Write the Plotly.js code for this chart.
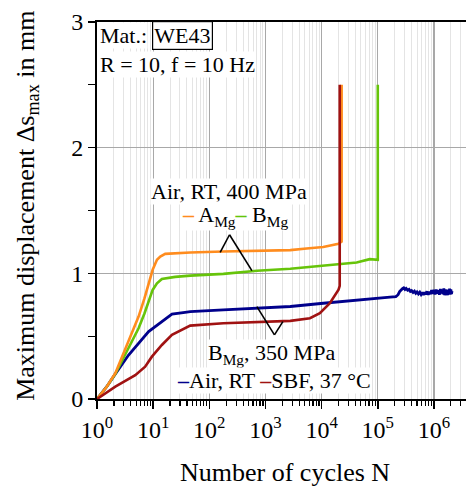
<!DOCTYPE html>
<html>
<head>
<meta charset="utf-8">
<script src="https://cdn.plot.ly/plotly-3.0.1.min.js"></script>
<style>
  html, body { margin: 0; padding: 0; background: #fff; }
  #chart { width: 466px; height: 486px; }
</style>
</head>
<body>
<div id="chart"></div>
<script>
// Cyclic displacement curves of WE43 specimens (R = 10, f = 10 Hz)

// A_Mg, air, RT, 400 MPa
const aMg400N = [1, 1.5, 2.12, 3, 4, 5.5, 7, 8.3, 9.8, 11.7, 13.4, 16.4, 24.7, 45.7, 178, 707, 2770, 5400, 10700, 20000, 22700, 22700];
const aMg400Y = [0, 0.1, 0.205, 0.37, 0.5, 0.656, 0.8, 0.908, 1.028, 1.108, 1.134, 1.155, 1.161, 1.166, 1.174, 1.18, 1.185, 1.198, 1.209, 1.235, 1.253, 2.5];

// B_Mg, air, RT, 400 MPa
const bMg400N = [1, 1.5, 2.12, 3, 4, 5.5, 7, 8.3, 9.8, 11.7, 14.3, 24.7, 45.7, 178, 707, 2770, 10700, 42000, 72000, 100000, 100000];
const bMg400Y = [0, 0.1, 0.2, 0.33, 0.44, 0.563, 0.68, 0.775, 0.868, 0.92, 0.955, 0.972, 0.982, 0.996, 1.02, 1.036, 1.06, 1.086, 1.113, 1.108, 2.5];

// B_Mg, air, RT, 350 MPa
const bMg350AirN = [1, 1.5, 2.12, 3.65, 8.3, 14.3, 21.6, 37, 45.7, 178, 707, 2770, 10700, 42000, 165000,
  210000, 230000, 245000, 260000, 275000, 290000, 305000, 320000, 340000, 360000, 380000, 400000, 425000, 450000, 475000,
  500000, 530000, 560000, 590000, 620000, 650000, 680000, 710000, 750000, 790000, 830000, 870000, 910000, 950000,
  1000000, 1050000, 1100000, 1150000, 1200000, 1250000, 1300000, 1350000, 1400000, 1450000, 1500000, 1550000,
  1600000, 1650000, 1700000, 1750000, 1800000, 1850000, 1900000, 1950000, 2000000, 2050000, 2100000];
const bMg350AirY = [0, 0.1, 0.2, 0.35, 0.536, 0.616, 0.675, 0.69, 0.696, 0.709, 0.723, 0.736, 0.762, 0.783, 0.81,
  0.815, 0.83, 0.855, 0.872, 0.878, 0.884, 0.872, 0.88, 0.866, 0.872, 0.856, 0.862, 0.848, 0.858, 0.842,
  0.852, 0.836, 0.85, 0.832, 0.848, 0.828, 0.85, 0.832, 0.856, 0.83, 0.852, 0.834, 0.866, 0.836,
  0.868, 0.832, 0.87, 0.838, 0.864, 0.83, 0.876, 0.84, 0.872, 0.834, 0.88, 0.826,
  0.872, 0.83, 0.866, 0.826, 0.87, 0.84, 0.878, 0.83, 0.872, 0.836, 0.86];

// B_Mg, SBF, 37 °C, 350 MPa
const bMg350SbfN = [1, 1.5, 2.12, 4.8, 7.2, 9.5, 14.3, 21.6, 37, 45.7, 178, 707, 2770, 6200, 9300, 14000, 20000, 21000, 21000];
const bMg350SbfY = [0, 0.05, 0.098, 0.19, 0.257, 0.337, 0.43, 0.51, 0.563, 0.584, 0.603, 0.611, 0.622, 0.643, 0.683, 0.763, 0.87, 0.9, 2.5];

// Axis labels
const xTickVals = [1, 10, 100, 1000, 10000, 100000, 1000000];
const xTickText = ['10<sup>0</sup>', '10<sup>1</sup>', '10<sup>2</sup>', '10<sup>3</sup>', '10<sup>4</sup>', '10<sup>5</sup>', '10<sup>6</sup>'];
const yTickVals = [0, 1, 2, 3];
const xTitle = 'Number of cycles N';
const yTitle = 'Maximum displacement Δs<sub>max</sub> in mm';

const COLORS = { orange: '#ff8c1e', green: '#66c40a', blue: '#00008c', red: '#a01212' };
const FONT = 'Liberation Serif, Times New Roman, serif';

function curve(x, y, color, width) {
  return { x: x, y: y, type: 'scatter', mode: 'lines', line: { color: color, width: width }, hoverinfo: 'skip' };
}

const traces = [
  curve(bMg350AirN, bMg350AirY, COLORS.blue, 2.8),
  curve(bMg400N, bMg400Y, COLORS.green, 2.6),
  curve(aMg400N, aMg400Y, COLORS.orange, 2.6),
  curve(bMg350SbfN, bMg350SbfY, COLORS.red, 2.6)
];

function dash(color) {
  return '<span style="color:' + color + '"><b>–</b></span>';
}

function label(text, xLog, y, extra) {
  return Object.assign({
    text: text, x: xLog, y: y, xref: 'x', yref: 'y', showarrow: false,
    bgcolor: '#ffffff', borderpad: 0, font: { family: FONT, size: 22, color: '#000' }
  }, extra || {});
}

function seg(x0, y0, x1, y1) {
  return { type: 'line', xref: 'x', yref: 'y', x0: x0, y0: y0, x1: x1, y1: y1, line: { color: '#000', width: 1.6 } };
}

const titleFont = { family: FONT, size: 26, color: '#000' };

const annotations = [
  // axis titles
  { text: xTitle, xref: 'paper', yref: 'paper', x: 0.51, y: -0.194, xanchor: 'center', yanchor: 'middle', showarrow: false, font: titleFont },
  { text: yTitle, xref: 'paper', yref: 'paper', x: -0.19, y: 0.512, xanchor: 'center', yanchor: 'middle', textangle: -90, showarrow: false, font: titleFont },
  // material / loading info
  label('Mat.:', 0.04, 2.892, { xanchor: 'left' }),
  label('WE43', 1.515, 2.89, { bordercolor: '#000', borderwidth: 1.2, borderpad: 1 }),
  label('R = 10, f = 10 Hz', 0.04, 2.66, { xanchor: 'left' }),
  // curve keys
  label('Air, RT, 400 MPa', 2.359, 1.649),
  label(dash(COLORS.orange) + ' A<sub>Mg</sub>' + dash(COLORS.green) + ' B<sub>Mg</sub>', 2.46, 1.455),
  label('B<sub>Mg</sub>, 350 MPa', 3.114, 0.36),
  label(dash(COLORS.blue) + 'Air, RT ' + dash(COLORS.red) + 'SBF, 37 °C', 3.155, 0.151)
];

const shapes = [
  seg(156, 1.166, 229, 1.307),
  seg(229, 1.307, 573, 1.022),
  seg(703, 0.735, 1445, 0.51),
  seg(1445, 0.51, 2040, 0.616)
];

const layout = {
  width: 466, height: 486,
  margin: { l: 97, r: 0, t: 22, b: 87, pad: 0 },
  paper_bgcolor: '#ffffff', plot_bgcolor: '#ffffff',
  showlegend: false,
  font: { family: FONT, size: 22, color: '#000' },
  xaxis: {
    type: 'log', range: [0, 6.571],
    tickmode: 'array', tickvals: xTickVals, ticktext: xTickText,
    ticks: 'outside', ticklen: 8, tickwidth: 1.5, tickcolor: '#000',
    showline: true, linecolor: '#000', linewidth: 2, mirror: true,
    showgrid: true, gridcolor: '#a8a8a8', gridwidth: 1.3,
    minor: { dtick: 'D1', ticks: 'outside', ticklen: 5, tickwidth: 1.2, tickcolor: '#000', showgrid: true, gridcolor: '#e4e4e4', gridwidth: 1 },
    zeroline: false,
    tickfont: { family: FONT, size: 24, color: '#000' }
  },
  yaxis: {
    range: [0, 3],
    tickmode: 'array', tickvals: yTickVals,
    ticks: 'outside', ticklen: 7, tickwidth: 1.5, tickcolor: '#000',
    showline: true, linecolor: '#000', linewidth: 2,
    showgrid: true, gridcolor: '#a8a8a8', gridwidth: 1.3,
    minor: { dtick: 0.5, ticks: 'outside', ticklen: 7, tickwidth: 1.2, tickcolor: '#000', showgrid: false },
    zeroline: false,
    tickfont: { family: FONT, size: 24, color: '#000' }
  },
  annotations: annotations,
  shapes: shapes
};

Plotly.newPlot('chart', traces, layout, { staticPlot: true, displayModeBar: false });
</script>
</body>
</html>
